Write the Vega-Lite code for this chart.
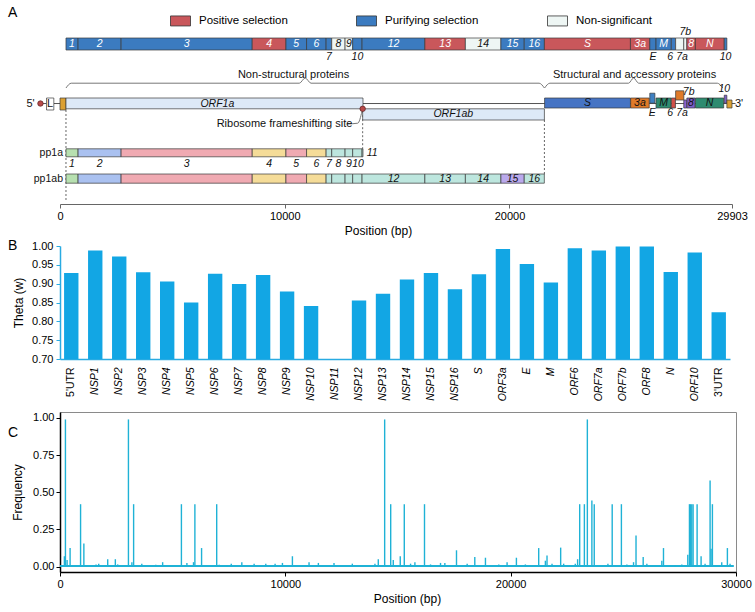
{
  "$schema": "https://vega.github.io/schema/vega-lite/v6.json",
  "padding": {"left": 7, "top": 5, "right": 5, "bottom": 5},
  "background": "white",
  "config": {
    "font": "Liberation Sans",
    "view": {"stroke": null},
    "axis": {"labelColor": "#000", "titleColor": "#000", "titleFontWeight": "normal", "labelFontSize": 11, "titleFontSize": 12, "grid": false},
    "title": {"fontSize": 14, "fontWeight": "normal", "anchor": "start", "frame": "group", "color": "#000"}
  },
  "bounds": "flush",
  "spacing": 42,
  "vconcat": [
    {
      "width": 672,
      "height": 176,
      "title": {"text": "A", "dx": -52, "offset": 7},
      "encoding": {
        "x": {"field": "start", "type": "quantitative", "scale": {"domain": [0, 29903], "nice": false, "zero": false},
          "axis": {"title": "Position (bp)", "values": [0, 10000, 20000, 29903], "format": "d", "domainColor": "#666", "tickColor": "#666", "tickSize": 4, "labelFlush": false, "titleX": 318, "titlePadding": 4}},
        "y": {"field": "lane", "type": "quantitative", "scale": {"domain": [0, 22], "reverse": true, "nice": false, "zero": false}, "axis": null}
      },
      "layer": [
        {
          "data": {"values": [
            {"brace": "ns", "start": 266, "lane": 7.5},
            {"brace": "ns", "start": 500, "lane": 6.9},
            {"brace": "ns", "start": 10650, "lane": 6.9},
            {"brace": "ns", "start": 10910, "lane": 6.25},
            {"brace": "ns", "start": 11170, "lane": 6.9},
            {"brace": "ns", "start": 21320, "lane": 6.9},
            {"brace": "ns", "start": 21555, "lane": 7.5},
            {"brace": "sa", "start": 21563, "lane": 7.5},
            {"brace": "sa", "start": 21800, "lane": 6.9},
            {"brace": "sa", "start": 25300, "lane": 6.9},
            {"brace": "sa", "start": 25525, "lane": 6.25},
            {"brace": "sa", "start": 25750, "lane": 6.9},
            {"brace": "sa", "start": 29250, "lane": 6.9},
            {"brace": "sa", "start": 29490, "lane": 7.5},
            {"brace": "fs", "start": 12760, "lane": 12.0},
            {"brace": "fs", "start": 13250, "lane": 11.9},
            {"brace": "fs", "start": 13440, "lane": 10.4}
          ]},
          "mark": {"type": "line", "color": "#777", "strokeWidth": 1, "interpolate": "monotone"},
          "encoding": {"detail": {"field": "brace"}, "order": {"field": "start"}}
        },
        {
          "data": {"values": [
            {"start": -870, "end": -600, "lane": 9.44},
            {"start": -275, "end": 0, "lane": 9.44},
            {"start": 13483, "end": 29903, "lane": 9.44},
            {"start": 29903, "end": 30060, "lane": 9.44}
          ]},
          "mark": {"type": "rule", "color": "#555", "strokeWidth": 1},
          "encoding": {"x2": {"field": "end"}}
        },
        {
          "data": {"values": [
            {"start": 266, "lane": 10.25, "lane2": 21.5},
            {"start": 13468, "lane": 10.4, "lane2": 15.1},
            {"start": 21555, "lane": 11.5, "lane2": 18.25}
          ]},
          "mark": {"type": "rule", "color": "#666", "strokeWidth": 1, "strokeDash": [2, 2]},
          "encoding": {"y2": {"field": "lane2"}}
        },
        {
          "data": {"values": [
            {"start": 266, "end": 805, "lane": 1.25, "lane2": 2.75, "cat": "Purifying selection"},
            {"start": 805, "end": 2719, "lane": 1.25, "lane2": 2.75, "cat": "Purifying selection"},
            {"start": 2719, "end": 8554, "lane": 1.25, "lane2": 2.75, "cat": "Purifying selection"},
            {"start": 8554, "end": 10054, "lane": 1.25, "lane2": 2.75, "cat": "Positive selection"},
            {"start": 10054, "end": 10972, "lane": 1.25, "lane2": 2.75, "cat": "Purifying selection"},
            {"start": 10972, "end": 11842, "lane": 1.25, "lane2": 2.75, "cat": "Purifying selection"},
            {"start": 11842, "end": 12091, "lane": 1.25, "lane2": 2.75, "cat": "Purifying selection"},
            {"start": 12091, "end": 12685, "lane": 1.25, "lane2": 2.75, "cat": "Non-significant"},
            {"start": 12685, "end": 13024, "lane": 1.25, "lane2": 2.75, "cat": "Non-significant"},
            {"start": 13024, "end": 13441, "lane": 1.25, "lane2": 2.75, "cat": "Purifying selection"},
            {"start": 13441, "end": 16236, "lane": 1.25, "lane2": 2.75, "cat": "Purifying selection"},
            {"start": 16236, "end": 18039, "lane": 1.25, "lane2": 2.75, "cat": "Positive selection"},
            {"start": 18039, "end": 19620, "lane": 1.25, "lane2": 2.75, "cat": "Non-significant"},
            {"start": 19620, "end": 20658, "lane": 1.25, "lane2": 2.75, "cat": "Purifying selection"},
            {"start": 20658, "end": 21555, "lane": 1.25, "lane2": 2.75, "cat": "Purifying selection"},
            {"start": 21555, "end": 25384, "lane": 1.25, "lane2": 2.75, "cat": "Positive selection"},
            {"start": 25384, "end": 26245, "lane": 1.25, "lane2": 2.75, "cat": "Positive selection"},
            {"start": 26245, "end": 26523, "lane": 1.25, "lane2": 2.75, "cat": "Purifying selection"},
            {"start": 26523, "end": 27202, "lane": 1.25, "lane2": 2.75, "cat": "Purifying selection"},
            {"start": 27202, "end": 27394, "lane": 1.25, "lane2": 2.75, "cat": "Purifying selection"},
            {"start": 27394, "end": 27756, "lane": 1.25, "lane2": 2.75, "cat": "Non-significant"},
            {"start": 27756, "end": 27894, "lane": 1.25, "lane2": 2.75, "cat": "Non-significant"},
            {"start": 27894, "end": 28274, "lane": 1.25, "lane2": 2.75, "cat": "Positive selection"},
            {"start": 28274, "end": 29558, "lane": 1.25, "lane2": 2.75, "cat": "Positive selection"},
            {"start": 29558, "end": 29674, "lane": 1.25, "lane2": 2.75, "cat": "Purifying selection"},
            {"start": -600, "end": -275, "lane": 8.75, "lane2": 10.25, "cat": "Leader"},
            {"start": 0, "end": 266, "lane": 8.75, "lane2": 10.25, "cat": "UTR"},
            {"start": 266, "end": 13483, "lane": 8.75, "lane2": 10.1, "cat": "ORF1"},
            {"start": 13468, "end": 21555, "lane": 10.1, "lane2": 11.5, "cat": "ORF1"},
            {"start": 21563, "end": 25384, "lane": 8.75, "lane2": 10.0, "cat": "S"},
            {"start": 25393, "end": 26220, "lane": 8.75, "lane2": 10.0, "cat": "ORF3a"},
            {"start": 26245, "end": 26472, "lane": 8.15, "lane2": 9.4, "cat": "E"},
            {"start": 26523, "end": 27191, "lane": 8.75, "lane2": 10.0, "cat": "M"},
            {"start": 27202, "end": 27387, "lane": 8.75, "lane2": 10.0, "cat": "ORF6"},
            {"start": 27394, "end": 27759, "lane": 7.85, "lane2": 9.0, "cat": "ORF7a"},
            {"start": 27756, "end": 27887, "lane": 9.0, "lane2": 10.0, "cat": "ORF7b"},
            {"start": 27894, "end": 28259, "lane": 8.75, "lane2": 10.0, "cat": "ORF8"},
            {"start": 28274, "end": 29533, "lane": 8.75, "lane2": 10.0, "cat": "N"},
            {"start": 29558, "end": 29674, "lane": 8.4, "lane2": 9.4, "cat": "ORF10"},
            {"start": 29675, "end": 29903, "lane": 9.0, "lane2": 10.0, "cat": "UTR"},
            {"start": 266, "end": 805, "lane": 15.1, "lane2": 16.1, "cat": "nsp1"},
            {"start": 805, "end": 2719, "lane": 15.1, "lane2": 16.1, "cat": "nsp2"},
            {"start": 2719, "end": 8554, "lane": 15.1, "lane2": 16.1, "cat": "nsp3"},
            {"start": 8554, "end": 10054, "lane": 15.1, "lane2": 16.1, "cat": "nsp4"},
            {"start": 10054, "end": 10972, "lane": 15.1, "lane2": 16.1, "cat": "nsp5"},
            {"start": 10972, "end": 11842, "lane": 15.1, "lane2": 16.1, "cat": "nsp6"},
            {"start": 11842, "end": 12091, "lane": 15.1, "lane2": 16.1, "cat": "nsp7"},
            {"start": 12091, "end": 12685, "lane": 15.1, "lane2": 16.1, "cat": "nsp8"},
            {"start": 12685, "end": 13024, "lane": 15.1, "lane2": 16.1, "cat": "nsp9"},
            {"start": 13024, "end": 13441, "lane": 15.1, "lane2": 16.1, "cat": "nsp10"},
            {"start": 13441, "end": 13483, "lane": 15.1, "lane2": 16.1, "cat": "nsp11"},
            {"start": 266, "end": 805, "lane": 18.25, "lane2": 19.4, "cat": "nsp1"},
            {"start": 805, "end": 2719, "lane": 18.25, "lane2": 19.4, "cat": "nsp2"},
            {"start": 2719, "end": 8554, "lane": 18.25, "lane2": 19.4, "cat": "nsp3"},
            {"start": 8554, "end": 10054, "lane": 18.25, "lane2": 19.4, "cat": "nsp4"},
            {"start": 10054, "end": 10972, "lane": 18.25, "lane2": 19.4, "cat": "nsp5"},
            {"start": 10972, "end": 11842, "lane": 18.25, "lane2": 19.4, "cat": "nsp6"},
            {"start": 11842, "end": 12091, "lane": 18.25, "lane2": 19.4, "cat": "nsp7"},
            {"start": 12091, "end": 12685, "lane": 18.25, "lane2": 19.4, "cat": "nsp8"},
            {"start": 12685, "end": 13024, "lane": 18.25, "lane2": 19.4, "cat": "nsp9"},
            {"start": 13024, "end": 13441, "lane": 18.25, "lane2": 19.4, "cat": "nsp10"},
            {"start": 13441, "end": 16236, "lane": 18.25, "lane2": 19.4, "cat": "nsp12"},
            {"start": 16236, "end": 18039, "lane": 18.25, "lane2": 19.4, "cat": "nsp13"},
            {"start": 18039, "end": 19620, "lane": 18.25, "lane2": 19.4, "cat": "nsp14"},
            {"start": 19620, "end": 20658, "lane": 18.25, "lane2": 19.4, "cat": "nsp15"},
            {"start": 20658, "end": 21552, "lane": 18.25, "lane2": 19.4, "cat": "nsp16"}
          ]},
          "mark": {"type": "rect", "stroke": "#3a3a3a", "strokeWidth": 0.7},
          "encoding": {
            "x2": {"field": "end"},
            "y2": {"field": "lane2"},
            "color": {"field": "cat", "type": "nominal",
              "scale": {
                "domain": ["Positive selection", "Purifying selection", "Non-significant", "Leader", "UTR", "ORF1", "S", "ORF3a", "E", "M", "ORF6", "ORF7a", "ORF7b", "ORF8", "N", "ORF10", "nsp1", "nsp2", "nsp3", "nsp4", "nsp5", "nsp6", "nsp7", "nsp8", "nsp9", "nsp10", "nsp11", "nsp12", "nsp13", "nsp14", "nsp15", "nsp16"],
                "range": ["#c9575b", "#3b7bc0", "#eef6f4", "#ffffff", "#dba032", "#dde9f7", "#4674c4", "#e07a28", "#3f80c2", "#2e8b70", "#d0504a", "#e07a28", "#8a63d2", "#7a5ec8", "#2e8b70", "#7a5ec8", "#b7e0b0", "#aac1f0", "#f0aab2", "#f5dc98", "#f0aab2", "#f5dc98", "#bde6de", "#bde6de", "#bde6de", "#bde6de", "#bde6de", "#bde6de", "#bde6de", "#bde6de", "#baa9ec", "#bde6de"]
              },
              "legend": {"orient": "none", "legendX": 110, "legendY": -18, "direction": "horizontal", "title": null,
                "values": ["Positive selection", "Purifying selection", "Non-significant"],
                "symbolType": "M-1,-0.5H1V0.5H-1Z", "symbolSize": 400, "symbolStrokeColor": "#333", "symbolStrokeWidth": 0.8,
                "labelFontSize": 11.5, "labelColor": "#000", "columnPadding": 66, "labelOffset": 8}
            }
          }
        },
        {
          "data": {"values": [
            {"start": -870, "lane": 9.44},
            {"start": 13468, "lane": 10.1}
          ]},
          "mark": {"type": "point", "filled": true, "size": 30, "color": "#b84a4a", "stroke": "#5a2020", "strokeWidth": 0.7, "opacity": 1},
          "encoding": {}
        },
        {
          "data": {"values": [
            {"start": 535, "lane": 2.0, "label": "1", "cat": "Purifying selection"},
            {"start": 1762, "lane": 2.0, "label": "2", "cat": "Purifying selection"},
            {"start": 5637, "lane": 2.0, "label": "3", "cat": "Purifying selection"},
            {"start": 9304, "lane": 2.0, "label": "4", "cat": "Positive selection"},
            {"start": 10513, "lane": 2.0, "label": "5", "cat": "Purifying selection"},
            {"start": 11407, "lane": 2.0, "label": "6", "cat": "Purifying selection"},
            {"start": 12388, "lane": 2.0, "label": "8", "cat": "Non-significant"},
            {"start": 12855, "lane": 2.0, "label": "9", "cat": "Non-significant"},
            {"start": 14839, "lane": 2.0, "label": "12", "cat": "Purifying selection"},
            {"start": 17138, "lane": 2.0, "label": "13", "cat": "Positive selection"},
            {"start": 18830, "lane": 2.0, "label": "14", "cat": "Non-significant"},
            {"start": 20139, "lane": 2.0, "label": "15", "cat": "Purifying selection"},
            {"start": 21105, "lane": 2.0, "label": "16", "cat": "Purifying selection"},
            {"start": 23470, "lane": 2.0, "label": "S", "cat": "Positive selection"},
            {"start": 25815, "lane": 2.0, "label": "3a", "cat": "Positive selection"},
            {"start": 26860, "lane": 2.0, "label": "M", "cat": "Purifying selection"},
            {"start": 28084, "lane": 2.0, "label": "8", "cat": "Positive selection"},
            {"start": 28916, "lane": 2.0, "label": "N", "cat": "Positive selection"}
          ]},
          "mark": {"type": "text", "fontStyle": "italic", "fontSize": 10.5},
          "encoding": {
            "text": {"field": "label"},
            "color": {"condition": {"test": "datum.cat == 'Non-significant'", "value": "#111"}, "value": "#ffffff"}
          }
        },
        {
          "data": {"values": [
            {"start": 11967, "lane": 3.6, "label": "7"},
            {"start": 13233, "lane": 3.6, "label": "10"},
            {"start": 26384, "lane": 3.6, "label": "E"},
            {"start": 27150, "lane": 3.6, "label": "6"},
            {"start": 27680, "lane": 3.6, "label": "7a"},
            {"start": 29616, "lane": 3.6, "label": "10"},
            {"start": 27825, "lane": 0.45, "label": "7b"},
            {"start": 7000, "lane": 9.45, "label": "ORF1a"},
            {"start": 17500, "lane": 10.8, "label": "ORF1ab"},
            {"start": 23470, "lane": 9.4, "label": "S"},
            {"start": 25806, "lane": 9.4, "label": "3a"},
            {"start": 26857, "lane": 9.4, "label": "M"},
            {"start": 28076, "lane": 9.4, "label": "8"},
            {"start": 28903, "lane": 9.4, "label": "N"},
            {"start": 26358, "lane": 10.6, "label": "E"},
            {"start": 27150, "lane": 10.6, "label": "6"},
            {"start": 27680, "lane": 10.6, "label": "7a"},
            {"start": 27975, "lane": 7.95, "label": "7b"},
            {"start": 29560, "lane": 7.6, "label": "10"},
            {"start": 535, "lane": 17.0, "label": "1"},
            {"start": 1762, "lane": 17.0, "label": "2"},
            {"start": 5637, "lane": 17.0, "label": "3"},
            {"start": 9304, "lane": 17.0, "label": "4"},
            {"start": 10513, "lane": 17.0, "label": "5"},
            {"start": 11407, "lane": 17.0, "label": "6"},
            {"start": 11967, "lane": 17.0, "label": "7"},
            {"start": 12388, "lane": 17.0, "label": "8"},
            {"start": 12855, "lane": 17.0, "label": "9"},
            {"start": 13260, "lane": 17.0, "label": "10"},
            {"start": 13890, "lane": 15.6, "label": "11"},
            {"start": 14839, "lane": 18.85, "label": "12"},
            {"start": 17138, "lane": 18.85, "label": "13"},
            {"start": 18830, "lane": 18.85, "label": "14"},
            {"start": 20139, "lane": 18.85, "label": "15"},
            {"start": 21105, "lane": 18.85, "label": "16"}
          ]},
          "mark": {"type": "text", "fontStyle": "italic", "fontSize": 10.5, "color": "#111"},
          "encoding": {"text": {"field": "label"}}
        },
        {
          "data": {"values": [
            {"start": 10392, "lane": 5.9, "label": "Non-structural proteins"},
            {"start": 25568, "lane": 5.9, "label": "Structural and accessory proteins"},
            {"start": 9990, "lane": 12.0, "label": "Ribosome frameshifting site"},
            {"start": -437, "lane": 9.5, "label": "L"},
            {"start": -1313, "lane": 9.44, "label": "5'"},
            {"start": 30217, "lane": 9.44, "label": "3'"}
          ]},
          "mark": {"type": "text", "fontSize": 11, "color": "#111"},
          "encoding": {"text": {"field": "label"}}
        },
        {
          "data": {"values": [
            {"start": 266, "lane": 15.6, "label": "pp1a"},
            {"start": 266, "lane": 18.85, "label": "pp1ab"}
          ]},
          "mark": {"type": "text", "fontSize": 10.5, "align": "right", "dx": -3, "color": "#111"},
          "encoding": {"text": {"field": "label"}}
        }
      ]
    },
    {
      "bounds": "flush",
      "spacing": 53,
      "vconcat": [
        {
          "width": 670,
          "height": 113,
          "title": {"text": "B", "dx": -52, "dy": 13, "offset": 0},
          "data": {"values": [
            {"region": "5'UTR", "theta": 0.928},
            {"region": "NSP1", "theta": 0.988},
            {"region": "NSP2", "theta": 0.972},
            {"region": "NSP3", "theta": 0.930},
            {"region": "NSP4", "theta": 0.906},
            {"region": "NSP5", "theta": 0.850},
            {"region": "NSP6", "theta": 0.926},
            {"region": "NSP7", "theta": 0.899},
            {"region": "NSP8", "theta": 0.923},
            {"region": "NSP9", "theta": 0.879},
            {"region": "NSP10", "theta": 0.841},
            {"region": "NSP11", "theta": 0.700},
            {"region": "NSP12", "theta": 0.855},
            {"region": "NSP13", "theta": 0.873},
            {"region": "NSP14", "theta": 0.911},
            {"region": "NSP15", "theta": 0.928},
            {"region": "NSP16", "theta": 0.885},
            {"region": "S", "theta": 0.925},
            {"region": "ORF3a", "theta": 0.992},
            {"region": "E", "theta": 0.952},
            {"region": "M", "theta": 0.903},
            {"region": "ORF6", "theta": 0.994},
            {"region": "ORF7a", "theta": 0.988},
            {"region": "ORF7b", "theta": 0.999},
            {"region": "ORF8", "theta": 0.999},
            {"region": "N", "theta": 0.931},
            {"region": "ORF10", "theta": 0.983},
            {"region": "3'UTR", "theta": 0.824}
          ]},
          "mark": {"type": "bar", "color": "#12a6e4", "clip": true},
          "encoding": {
            "x": {"field": "region", "type": "nominal", "sort": null,
              "scale": {"paddingInner": 0.4, "paddingOuter": 0.17},
              "axis": {"title": null, "labelAngle": -90, "labelFontSize": 10.5,
                "labelFontStyle": {"condition": {"test": "indexof(datum.value, 'UTR') >= 0", "value": "normal"}, "value": "italic"},
                "ticks": false, "domainColor": "#29abe2", "domainWidth": 1.5, "labelPadding": 8}},
            "y": {"field": "theta", "type": "quantitative",
              "scale": {"domain": [0.7, 1.0], "zero": false, "nice": false},
              "axis": {"title": "Theta (w)", "values": [0.7, 0.75, 0.8, 0.85, 0.9, 0.95, 1.0], "format": ".2f",
                "domainColor": "#29abe2", "domainWidth": 1.5, "tickColor": "#29abe2", "tickSize": 4, "labelPadding": 3, "titlePadding": 6}}
          }
        },
        {
          "width": 676,
          "height": 160,
          "title": {"text": "C", "dx": -52, "dy": 28, "offset": 0},
          "view": {"stroke": "#8a8a8a", "strokeWidth": 1},
          "encoding": {
            "x": {"field": "pos", "type": "quantitative", "scale": {"domain": [0, 30000], "nice": false, "zero": false},
              "axis": {"title": "Position (bp)", "values": [0, 10000, 20000, 30000], "format": "d", "domainColor": "#000", "domainWidth": 1.5, "tickColor": "#000", "tickSize": 4, "labelFlush": false, "titleX": 347, "titlePadding": 4}},
            "y": {"field": "freq", "type": "quantitative", "scale": {"domain": [-0.036, 1.04], "nice": false, "zero": false},
              "axis": {"title": "Frequency", "values": [0, 0.25, 0.5, 0.75, 1.0], "format": ".2f", "domainColor": "#000", "domainWidth": 1.5, "tickColor": "#000", "tickSize": 4, "labelPadding": 2, "titlePadding": 8}}
          },
          "layer": [
            {
              "data": {"values": [{"pos": 1, "end": 29903, "freq": 0.005}]},
              "mark": {"type": "rule", "color": "#1fb2d6", "strokeWidth": 2},
              "encoding": {"x2": {"field": "end"}}
            },
            {
              "data": {"values": [
                {"pos": 195, "freq": 0.07}, {"pos": 241, "freq": 0.99}, {"pos": 315, "freq": 0.045}, {"pos": 448, "freq": 0.125},
                {"pos": 913, "freq": 0.42}, {"pos": 1059, "freq": 0.155}, {"pos": 1150, "freq": 0.01}, {"pos": 1600, "freq": 0.015},
                {"pos": 1718, "freq": 0.02}, {"pos": 2117, "freq": 0.05}, {"pos": 2456, "freq": 0.05}, {"pos": 2560, "freq": 0.015},
                {"pos": 3037, "freq": 0.99}, {"pos": 3190, "freq": 0.03}, {"pos": 3267, "freq": 0.42}, {"pos": 3630, "freq": 0.02},
                {"pos": 4250, "freq": 0.012}, {"pos": 4555, "freq": 0.03}, {"pos": 5388, "freq": 0.42}, {"pos": 5632, "freq": 0.025},
                {"pos": 5925, "freq": 0.03}, {"pos": 5986, "freq": 0.42}, {"pos": 6283, "freq": 0.125}, {"pos": 6954, "freq": 0.42},
                {"pos": 7066, "freq": 0.012}, {"pos": 7400, "freq": 0.01}, {"pos": 7600, "freq": 0.02}, {"pos": 8069, "freq": 0.03},
                {"pos": 8615, "freq": 0.02}, {"pos": 9132, "freq": 0.02}, {"pos": 9546, "freq": 0.02}, {"pos": 9871, "freq": 0.025},
                {"pos": 10314, "freq": 0.07}, {"pos": 11052, "freq": 0.03}, {"pos": 11466, "freq": 0.025}, {"pos": 12160, "freq": 0.025},
                {"pos": 12973, "freq": 0.02}, {"pos": 13977, "freq": 0.02}, {"pos": 14125, "freq": 0.05}, {"pos": 14408, "freq": 0.99},
                {"pos": 14676, "freq": 0.42}, {"pos": 14790, "freq": 0.045}, {"pos": 15100, "freq": 0.07}, {"pos": 15279, "freq": 0.42},
                {"pos": 15558, "freq": 0.02}, {"pos": 15750, "freq": 0.03}, {"pos": 16176, "freq": 0.42}, {"pos": 16444, "freq": 0.015},
                {"pos": 16887, "freq": 0.025}, {"pos": 17079, "freq": 0.025}, {"pos": 17596, "freq": 0.11}, {"pos": 18069, "freq": 0.02},
                {"pos": 18408, "freq": 0.065}, {"pos": 18881, "freq": 0.06}, {"pos": 19472, "freq": 0.015}, {"pos": 19841, "freq": 0.03},
                {"pos": 20255, "freq": 0.06}, {"pos": 20653, "freq": 0.015}, {"pos": 21244, "freq": 0.125}, {"pos": 21540, "freq": 0.04},
                {"pos": 21613, "freq": 0.075}, {"pos": 21835, "freq": 0.02}, {"pos": 22219, "freq": 0.128}, {"pos": 22352, "freq": 0.02},
                {"pos": 22573, "freq": 0.01}, {"pos": 22868, "freq": 0.02}, {"pos": 22971, "freq": 0.05}, {"pos": 23063, "freq": 0.42},
                {"pos": 23271, "freq": 0.42}, {"pos": 23403, "freq": 0.99}, {"pos": 23604, "freq": 0.445}, {"pos": 23709, "freq": 0.42},
                {"pos": 24050, "freq": 0.01}, {"pos": 24316, "freq": 0.02}, {"pos": 24506, "freq": 0.42}, {"pos": 24914, "freq": 0.42},
                {"pos": 25157, "freq": 0.015}, {"pos": 25453, "freq": 0.03}, {"pos": 25563, "freq": 0.21}, {"pos": 25881, "freq": 0.065},
                {"pos": 26044, "freq": 0.02}, {"pos": 26708, "freq": 0.04}, {"pos": 26782, "freq": 0.125}, {"pos": 27299, "freq": 0.01},
                {"pos": 27595, "freq": 0.015}, {"pos": 27860, "freq": 0.08}, {"pos": 27934, "freq": 0.42}, {"pos": 27980, "freq": 0.42},
                {"pos": 28037, "freq": 0.42}, {"pos": 28096, "freq": 0.42}, {"pos": 28274, "freq": 0.42}, {"pos": 28451, "freq": 0.07},
                {"pos": 28628, "freq": 0.02}, {"pos": 28850, "freq": 0.58}, {"pos": 28894, "freq": 0.12}, {"pos": 28953, "freq": 0.42},
                {"pos": 29367, "freq": 0.03}, {"pos": 29618, "freq": 0.125}, {"pos": 29736, "freq": 0.02}
              ]},
              "mark": {"type": "rule", "color": "#1fb2d6", "strokeWidth": 1.4},
              "encoding": {"y2": {"datum": 0}}
            }
          ]
        }
      ]
    }
  ]
}
